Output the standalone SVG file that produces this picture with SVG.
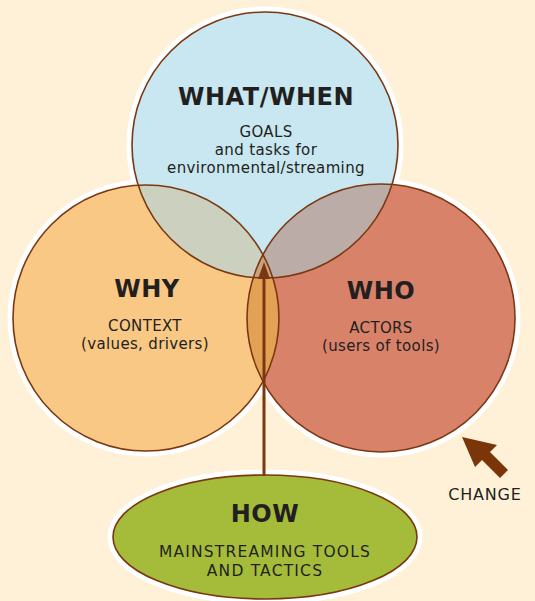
<svg xmlns="http://www.w3.org/2000/svg" width="535" height="601" viewBox="0 0 535 601">
<defs>
<style>
.halo{fill:#fff;stroke:#fff;stroke-width:11}
.ol{fill:none;stroke:#7a3812;stroke-width:1.6}
.t{font-family:"DejaVu Sans","Liberation Sans",sans-serif;fill:#231f20;text-anchor:middle}
.b{font-weight:bold;font-size:24px;letter-spacing:0.5px}
.s{font-size:15px;letter-spacing:0.35px}
.h{font-size:15.5px;letter-spacing:1.2px}
</style>
<clipPath id="cL"><circle cx="146" cy="318" r="133"/></clipPath>
<clipPath id="cR"><circle cx="381" cy="318" r="134"/></clipPath>
</defs>
<rect width="535" height="601" fill="#fef1d7"/>
<g id="halos">
<circle class="halo" cx="265" cy="145" r="133"/>
<circle class="halo" cx="146" cy="318" r="133"/>
<circle class="halo" cx="381" cy="318" r="134"/>
<ellipse class="halo" cx="265" cy="537" rx="152" ry="62"/>
</g>
<g id="why">
<circle cx="146" cy="318" r="133" fill="#f9c885"/>
</g>
<g id="who">
<circle cx="381" cy="318" r="134" fill="#d9826a"/>
</g>
<g id="whatwhen">
<circle cx="265" cy="145" r="133" fill="#c8e7f1"/>
</g>
<g id="overlaps">
<g clip-path="url(#cL)"><circle cx="381" cy="318" r="134" fill="#e3a156"/></g>
<g clip-path="url(#cL)"><circle cx="265" cy="145" r="133" fill="#cbd0bf"/></g>
<g clip-path="url(#cR)"><circle cx="265" cy="145" r="133" fill="#bbaca8"/></g>
<g clip-path="url(#cR)"><g clip-path="url(#cL)"><circle cx="265" cy="145" r="133" fill="#c9a37c"/></g></g>
</g>
<g id="outlines">
<circle class="ol" cx="146" cy="318" r="133"/>
<circle class="ol" cx="381" cy="318" r="134"/>
<circle class="ol" cx="265" cy="145" r="133"/>
</g>
<g id="how">
<ellipse cx="265" cy="537" rx="152" ry="62" fill="#a4bc3a" stroke="#7a3812" stroke-width="1.6"/>
<text class="t b" x="265" y="522">HOW</text>
<text class="t h" x="265" y="557">MAINSTREAMING TOOLS</text>
<text class="t h" x="265" y="576">AND TACTICS</text>
</g>
<g id="connectors">
<line x1="264" y1="476" x2="264" y2="276" stroke="#7a3812" stroke-width="3"/>
<polygon points="258,279 264,262 270,279" fill="#7a3812"/>
<path d="M462,437 L497,445 L490,452 L508,470 L500,478 L482,460 L475,467 Z" fill="#7a3508"/>
</g>
<g id="labels">
<text class="t b" x="266" y="105">WHAT/WHEN</text>
<text class="t s" x="266" y="137">GOALS</text>
<text class="t s" x="266" y="155">and tasks for</text>
<text class="t s" x="266" y="173">environmental/streaming</text>
<text class="t b" x="147" y="297">WHY</text>
<text class="t s" x="145" y="331">CONTEXT</text>
<text class="t s" x="145" y="349">(values, drivers)</text>
<text class="t b" x="381" y="299">WHO</text>
<text class="t s" x="381" y="333">ACTORS</text>
<text class="t s" x="381" y="351">(users of tools)</text>
<text class="t" x="485" y="500" style="font-size:16px;letter-spacing:0.8px">CHANGE</text>
</g>
</svg>
